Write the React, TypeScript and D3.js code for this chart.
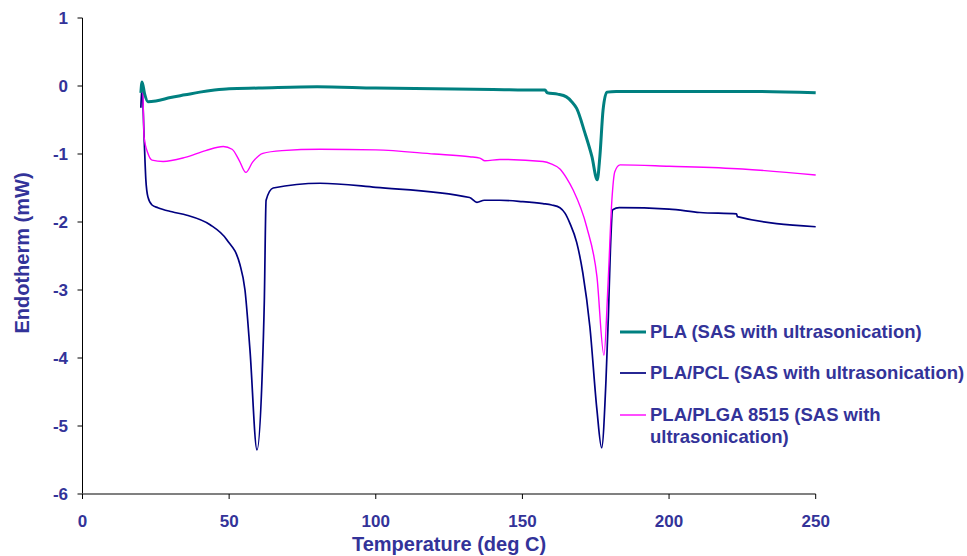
import React, { useEffect, useRef } from "react";
import * as d3 from "d3";

// temperature (deg C) / heat flow (mW)
const plaTemp = [19.9, 20.3, 21.2, 22.3, 25, 30, 35, 40, 45, 50, 60, 80, 100, 120, 140, 155, 157.7, 158.5, 162, 165, 166.8, 168.5, 171.3, 173.7, 175.5, 176.4, 177.5, 178.8, 182, 200, 230, 250];
const plaVal = [-0.1, 0.06, -0.12, -0.23, -0.22, -0.17, -0.13, -0.09, -0.06, -0.04, -0.03, -0.01, -0.03, -0.04, -0.05, -0.06, -0.06, -0.1, -0.12, -0.16, -0.23, -0.33, -0.69, -1.04, -1.38, -1.04, -0.35, -0.09, -0.08, -0.08, -0.08, -0.1];

const pclTemp = [19.9, 20.3, 21, 21.6, 22.3, 23.7, 25.7, 30.5, 35.6, 43.5, 49.2, 53.7, 55.4, 57.1, 59.5, 61.2, 62, 62.6, 65, 81, 100, 132, 134.5, 137, 142.3, 150, 157, 160, 162.8, 164.5, 166.2, 168.5, 170.6, 173, 175.4, 177, 178.5, 179.3, 180, 180.8, 183, 200, 210.5, 223, 223.3, 250];
const pclVal = [-0.32, 0.0, -0.75, -1.38, -1.63, -1.75, -1.79, -1.85, -1.9, -2.04, -2.26, -2.63, -3.0, -3.88, -5.35, -4.32, -3.15, -1.68, -1.5, -1.43, -1.49, -1.64, -1.71, -1.68, -1.68, -1.7, -1.73, -1.75, -1.79, -1.87, -2.02, -2.3, -2.75, -3.54, -4.76, -5.32, -4.32, -3.4, -2.41, -1.82, -1.79, -1.81, -1.86, -1.88, -1.92, -2.07];

const plgaTemp = [20, 20.5, 21, 22.3, 23.7, 27.5, 35, 42, 48, 51, 53.5, 55.7, 58, 61.5, 68, 81, 100, 120, 132, 135.5, 137.2, 142.3, 157, 160, 162.8, 165, 167.3, 171.9, 175.4, 177.8, 179.2, 180.5, 181.5, 183.3, 200, 225, 250];
const plgaVal = [-0.05, 0.0, -0.75, -0.99, -1.09, -1.11, -1.05, -0.95, -0.89, -0.93, -1.1, -1.27, -1.12, -0.99, -0.95, -0.93, -0.94, -1.0, -1.04, -1.06, -1.1, -1.08, -1.11, -1.15, -1.22, -1.35, -1.53, -2.07, -2.8, -3.96, -2.9, -1.68, -1.26, -1.16, -1.18, -1.22, -1.31];

const seriesNames = ["PLA (SAS with ultrasonication)", "PLA/PCL (SAS with ultrasonication)", "PLA/PLGA 8515 (SAS with ultrasonication)"];
const xTicks = [0, 50, 100, 150, 200, 250];
const yTicks = [1, 0, -1, -2, -3, -4, -5, -6];

const W = 967, H = 556;
const txt = "#333399";
const font = "'Liberation Sans', Arial, sans-serif";

export default function App() {
  const ref = useRef<SVGSVGElement>(null);

  useEffect(() => {
    const svg = d3.select(ref.current);
    svg.selectAll("*").remove();

    const x = d3.scaleLinear().domain([0, 250]).range([82.5, 815.7]);
    const y = d3.scaleLinear().domain([-6, 1]).range([494, 18]);

    // y axis
    svg.append("line").attr("x1", x(0)).attr("x2", x(0)).attr("y1", y(1)).attr("y2", y(-6))
      .attr("stroke", "#000").attr("stroke-width", 1);
    yTicks.forEach(t => {
      svg.append("line").attr("x1", x(0) - 5).attr("x2", x(0)).attr("y1", y(t)).attr("y2", y(t))
        .attr("stroke", "#000");
      svg.append("text").attr("x", 68).attr("y", y(t)).attr("dy", "0.36em")
        .attr("text-anchor", "end").attr("font-family", font).attr("font-weight", "bold")
        .attr("font-size", 17).attr("fill", txt).text(t);
    });

    // x axis
    svg.append("line").attr("x1", x(0)).attr("x2", x(250)).attr("y1", y(-6)).attr("y2", y(-6))
      .attr("stroke", "#808080").attr("stroke-width", 2);
    xTicks.forEach(t => {
      svg.append("line").attr("x1", x(t)).attr("x2", x(t)).attr("y1", y(-6)).attr("y2", y(-6) + 5)
        .attr("stroke", "#000");
      svg.append("text").attr("x", x(t)).attr("y", 521).attr("dy", "0.36em")
        .attr("text-anchor", "middle").attr("font-family", font).attr("font-weight", "bold")
        .attr("font-size", 17).attr("fill", txt).text(t);
    });

    // axis titles
    svg.append("text").attr("x", 449).attr("y", 544).attr("dy", "0.36em")
      .attr("text-anchor", "middle").attr("font-family", font).attr("font-weight", "bold")
      .attr("font-size", 20).attr("fill", txt).text("Temperature (deg C)");
    svg.append("text").attr("transform", "translate(22,253) rotate(-90)").attr("dy", "0.36em")
      .attr("text-anchor", "middle").attr("font-family", font).attr("font-weight", "bold")
      .attr("font-size", 20).attr("fill", txt).text("Endotherm (mW)");

    const line = d3.line<[number, number]>()
      .x(d => x(d[0])).y(d => y(d[1])).curve(d3.curveMonotoneX);

    const series = [
      { t: plaTemp, v: plaVal, color: "#008080", w: 3 },
      { t: pclTemp, v: pclVal, color: "#000080", w: 1.7 },
      { t: plgaTemp, v: plgaVal, color: "#FF00FF", w: 1.4 },
    ];
    // navy first, then magenta, teal on top
    [1, 2, 0].forEach(i => {
      const s = series[i];
      const pts = s.t.map((t, j) => [t, s.v[j]] as [number, number]);
      svg.append("path").attr("d", line(pts)).attr("fill", "none")
        .attr("stroke", s.color).attr("stroke-width", s.w).attr("stroke-linejoin", "round");
    });

    // legend
    const rows = [338, 379, 421];
    series.forEach((s, i) => {
      const cy = rows[i] - 6;
      svg.append("line").attr("x1", 620).attr("x2", 646).attr("y1", cy).attr("y2", cy)
        .attr("stroke", s.color).attr("stroke-width", s.w);
      const tx = svg.append("text").attr("x", 650).attr("y", rows[i])
        .attr("font-family", font).attr("font-weight", "bold").attr("font-size", 18.5).attr("fill", txt);
      if (i === 2) {
        tx.append("tspan").attr("x", 650).text("PLA/PLGA 8515 (SAS with");
        tx.append("tspan").attr("x", 650).attr("dy", 22).text("ultrasonication)");
      } else {
        tx.text(seriesNames[i]);
      }
    });
  }, []);

  return (
    <svg ref={ref} width={W} height={H}
      style={{ position: "absolute", left: 0, top: 0, background: "#fff" }} />
  );
}
